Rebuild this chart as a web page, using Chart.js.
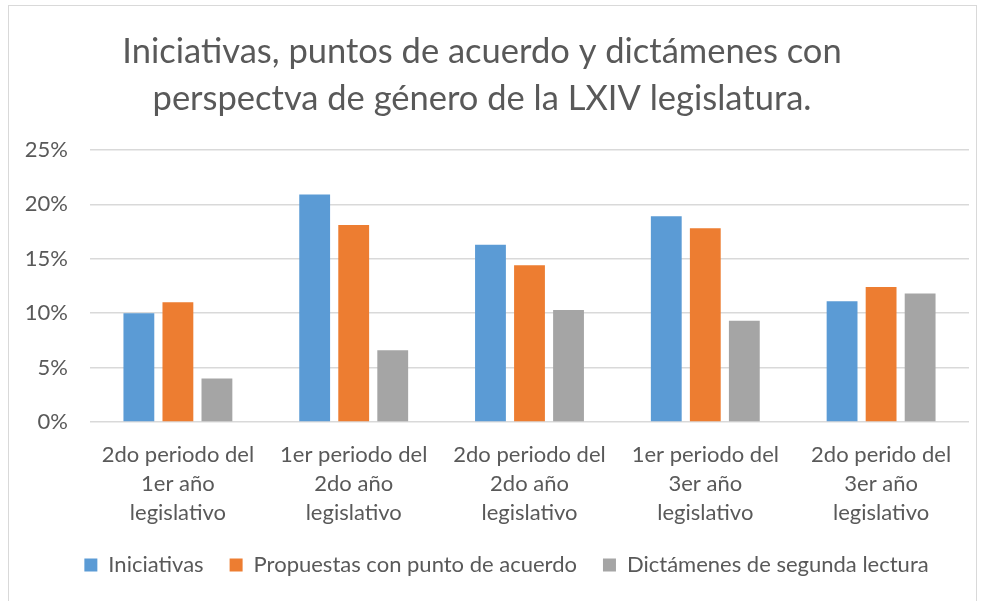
<!DOCTYPE html>
<html><head><meta charset="utf-8">
<script src="https://cdn.jsdelivr.net/npm/chart.js@4"></script>
<style>
html,body{margin:0;padding:0;background:#fff;overflow:hidden;}
#wrap{position:absolute;left:0;top:0;width:987px;height:601px;}
#frame{position:absolute;left:8px;top:5px;width:969px;height:640px;border:1px solid #d9d9d9;box-sizing:border-box;}
canvas{position:absolute;left:0;top:0;}
</style></head>
<body><div id="wrap"><div id="frame"></div><canvas id="c" width="987" height="601"></canvas></div>
<script>
const categories = [
  ["2do periodo del","1er año","legislativo"],
  ["1er periodo del","2do año","legislativo"],
  ["2do periodo del","2do año","legislativo"],
  ["1er periodo del","3er año","legislativo"],
  ["2do perido del","3er año","legislativo"]
];
const iniciativas = [10.0, 20.9, 16.3, 18.9, 11.1];
const propuestas = [11.0, 18.1, 14.4, 17.8, 12.4];
const dictamenes = [4.0, 6.6, 10.3, 9.3, 11.8];
const seriesNames = ["Iniciativas","Propuestas con punto de acuerdo","Dictámenes de segunda lectura"];
const titleLines = ["Iniciativas, puntos de acuerdo y dictámenes con","perspectva de género de la LXIV legislatura."];
const yTicks = [0,5,10,15,20,25];

const FONT = "Lato";
const shifts = {id:'shifts', afterLayout(chart){
  if(chart.titleBlock){ chart.titleBlock.right -= 13; }
  if(chart.legend){ chart.legend.left += 18; chart.legend.right += 18; }
}};

new Chart(document.getElementById('c'), {
  type:'bar',
  data:{
    labels:categories,
    datasets:[
      {label:seriesNames[0], data:iniciativas, backgroundColor:'#5B9BD5'},
      {label:seriesNames[1], data:propuestas, backgroundColor:'#ED7D31'},
      {label:seriesNames[2], data:dictamenes, backgroundColor:'#A5A5A5'}
    ]
  },
  plugins:[shifts],
  options:{
    responsive:false, animation:false,
    layout:{padding:{left:8,right:18,top:0,bottom:15}},
    datasets:{bar:{barPercentage:0.79, categoryPercentage:0.666}},
    plugins:{
      title:{display:true, text:titleLines, color:'#595959',
        font:{family:FONT,size:34.5,weight:'normal',lineHeight:'47px'},
        padding:{top:28,bottom:28}},
      legend:{position:'bottom', labels:{color:'#595959', boxWidth:13, boxHeight:13,
        font:{family:FONT,size:22}, padding:26}},
      tooltip:{enabled:false}
    },
    scales:{
      x:{grid:{display:false, drawTicks:false}, border:{display:false},
        ticks:{color:'#595959', font:{family:FONT,size:22,lineHeight:'29px'}, padding:18, maxRotation:0},
        afterFit(s){ s.height = 106; }},
      y:{min:0,max:25, grid:{color:'#d9d9d9', lineWidth:1.5, drawTicks:false}, border:{display:false},
        afterBuildTicks(s){ s.ticks = yTicks.map(v=>({value:v})); },
        ticks:{color:'#595959', font:{family:FONT,size:22}, padding:22, callback:v=>v+'%'},
        afterFit(s){ s.width = 82; }}
    }
  }
});
</script></body></html>
